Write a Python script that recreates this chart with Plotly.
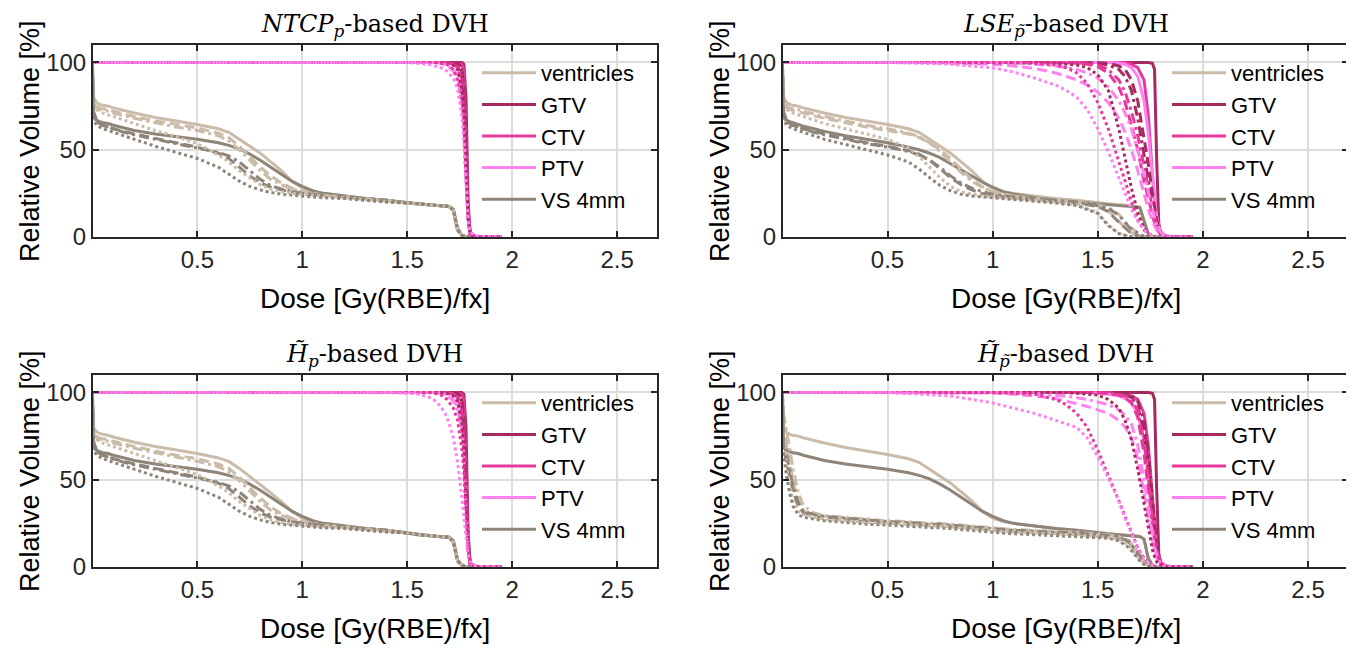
import plotly.graph_objects as go

# ---------------- data ----------------
DOSE_OAR = [0, 0.005, 0.02, 0.035, 0.05, 0.075, 0.1, 0.15, 0.2, 0.3, 0.4, 0.5, 0.6, 0.65, 0.7, 0.75,
            0.8, 0.85, 0.9, 0.95, 1.0, 1.05, 1.1, 1.2, 1.3, 1.4, 1.5, 1.55, 1.6, 1.65, 1.7, 1.72,
            1.74, 1.76, 1.78, 1.8]
DOSE_TGT = [0, 0.5, 0.8, 1.0, 1.1, 1.2, 1.3, 1.35, 1.4, 1.45, 1.5, 1.55, 1.6, 1.63, 1.66, 1.69,
            1.72, 1.74, 1.76, 1.77, 1.78, 1.79, 1.8, 1.82, 1.85, 1.9, 1.95]

STRUCTURES = ["ventricles", "GTV", "CTV", "PTV", "VS 4mm"]
COLORS = ["#CBBBA9", "#A62A5E", "#E6399B", "#FF82EE", "#8E8478"]
STYLES = ["solid", "dash", "dashdot", "dot"]
TITLES = ["<i>NTCP</i><sub><i>p</i></sub>-based DVH",
          "<i>LSE</i><sub><i>p\u0303</i></sub>-based DVH",
          "<i>H\u0303</i><sub><i>p</i></sub>-based DVH",
          "<i>H\u0303</i><sub><i>p\u0303</i></sub>-based DVH"]
X_TICKS = [0.5, 1, 1.5, 2, 2.5]
Y_TICKS = [0, 50, 100]
X_LABEL = "Dose [Gy(RBE)/fx]"
Y_LABEL = "Relative Volume [%]"

# ----- panel 1: NTCP_p -----
NTCP_VENTRICLES = [
    [100, 80, 77, 76, 75.5, 75, 74, 72.5, 71, 68.5, 66.5, 64.5, 62, 60, 56, 52, 48, 43, 38, 32, 28, 26, 25, 23.5, 22, 21, 19.5, 19, 18.5, 18, 17.5, 16, 5, 1, 0, 0],
    [100, 78, 75, 74, 73.5, 73, 72, 70.5, 69, 66.5, 64.5, 62.5, 59.5, 57, 52, 46, 40, 35, 31, 28, 26, 25, 24, 23, 22, 21, 19.5, 19, 18.5, 18, 17.5, 15, 4, 1, 0, 0],
    [100, 77, 74, 73, 72.5, 72, 71, 69.5, 68, 65.5, 63, 61, 58, 55, 50, 44, 38, 33, 30, 27.5, 26, 25, 24, 23, 22, 21, 19.5, 19, 18.5, 18, 17.5, 15, 4, 1, 0, 0],
    [100, 76, 73, 72, 71, 70, 69, 67, 65, 61, 57.5, 53.5, 47, 43, 38, 34, 30, 27.5, 26, 25, 24.5, 24, 23.5, 22.5, 21.5, 20.5, 19.5, 19, 18.5, 18, 17.5, 15, 4, 1, 0, 0],
]
NTCP_VS = [
    [100, 72, 67, 66, 65.5, 65, 64, 62.5, 61, 59, 57.5, 56, 54, 52.5, 50.5, 47.5, 44, 40, 36, 32, 29, 26.5, 25, 23.5, 22, 21, 19.5, 19, 18.5, 18, 17.5, 16, 5, 1, 0, 0],
    [100, 70, 66, 65, 64, 63, 62, 60.5, 59, 56.5, 54, 51.5, 48, 45, 40, 35, 31, 28.5, 27, 26, 25, 24.5, 24, 23, 22, 21, 19.5, 19, 18.5, 18, 17.5, 15, 4, 1, 0, 0],
    [100, 70, 66, 65, 64, 63, 62, 60, 58.5, 56, 53.5, 51, 48.5, 46.5, 43, 38, 33, 29.5, 27.5, 26, 25, 24.5, 24, 23, 22, 21, 19.5, 19, 18.5, 18, 17.5, 15, 4, 1, 0, 0],
    [100, 68, 64, 63, 62, 61, 60, 58, 56, 52, 48.5, 45, 40, 36, 32, 29, 27, 25.5, 24.5, 24, 23.5, 23, 22.5, 22, 21, 20, 19.5, 19, 18.5, 18, 17.5, 15, 4, 1, 0, 0],
]
NTCP_GTV = [
    [100, 100, 100, 100, 100, 100, 100, 100, 100, 100, 100, 100, 100, 100, 100, 100, 100, 100, 100, 99, 80, 20, 2, 0, 0, 0, 0],
    [100, 100, 100, 100, 100, 100, 100, 100, 100, 100, 100, 100, 100, 100, 100, 100, 100, 99.5, 97, 85, 50, 15, 2, 0.3, 0, 0, 0],
    [100, 100, 100, 100, 100, 100, 100, 100, 100, 100, 100, 100, 100, 100, 100, 100, 100, 99, 95, 80, 45, 13, 2, 0.3, 0, 0, 0],
    [100, 100, 100, 100, 100, 100, 100, 100, 100, 100, 100, 100, 100, 100, 100, 99.5, 98.5, 96, 85, 70, 40, 12, 2, 0.3, 0, 0, 0],
]
NTCP_CTV = [
    [100, 100, 100, 100, 100, 100, 100, 100, 100, 100, 100, 100, 100, 100, 100, 100, 100, 99.5, 99, 95, 60, 15, 1, 0.2, 0, 0, 0],
    [100, 100, 100, 100, 100, 100, 100, 100, 100, 100, 100, 100, 100, 100, 100, 100, 99.5, 98, 92, 75, 40, 10, 1.5, 0.3, 0, 0, 0],
    [100, 100, 100, 100, 100, 100, 100, 100, 100, 100, 100, 100, 100, 100, 100, 100, 99, 97, 90, 72, 38, 10, 1.5, 0.3, 0, 0, 0],
    [100, 100, 100, 100, 100, 100, 100, 100, 100, 100, 100, 100, 100, 100, 99.5, 99, 96, 90, 75, 60, 35, 10, 2, 0.4, 0, 0, 0],
]
NTCP_PTV = [
    [100, 100, 100, 100, 100, 100, 100, 100, 100, 100, 100, 100, 100, 100, 100, 99.5, 99, 97, 90, 75, 45, 12, 3, 0.5, 0.1, 0, 0],
    [100, 100, 100, 100, 100, 100, 100, 100, 100, 100, 100, 100, 100, 100, 99.5, 99, 96, 92, 80, 65, 35, 10, 2, 0.5, 0.1, 0, 0],
    [100, 100, 100, 100, 100, 100, 100, 100, 100, 100, 100, 100, 100, 100, 99.5, 98.5, 95, 90, 78, 62, 33, 10, 2, 0.5, 0.1, 0, 0],
    [100, 100, 100, 100, 100, 100, 100, 100, 100, 100, 100, 99.5, 99, 98, 97, 95, 91, 85, 70, 55, 30, 10, 3, 1, 0.3, 0.1, 0],
]

# ----- panel 2: LSE_p~ -----
LSE_VENTRICLES = [
    [100, 80, 77, 76, 75.5, 75, 74, 72.5, 71, 68.5, 66.5, 64.5, 62, 60, 56, 52, 48, 43, 38, 32, 28, 26, 25, 23.5, 22, 21, 19.5, 19, 18.5, 18, 17, 9, 2, 0.3, 0, 0],
    [100, 77, 74, 73, 72.5, 72, 71, 69.5, 68, 65.5, 63, 61, 59, 57, 54, 50, 45, 39, 33, 29, 26, 24.5, 23.5, 22, 21, 20, 18, 15, 9, 3, 0.5, 0.2, 0, 0, 0, 0],
    [100, 78, 75, 74, 73.5, 73, 72, 70.5, 69, 66.5, 64, 62, 59.5, 57.5, 54, 49, 43, 37, 32, 28.5, 26, 24.5, 23.5, 22, 21, 20, 18.5, 17, 13, 6, 1.5, 0.5, 0.1, 0, 0, 0],
    [100, 76, 73, 72, 71, 70, 69, 67, 65, 62, 59, 56, 51, 46, 40, 34, 29, 26, 24.5, 23.5, 23, 22.5, 22, 21, 20, 18.5, 14, 7, 2, 0.3, 0, 0, 0, 0, 0, 0],
]
LSE_VS = [
    [100, 72, 67, 66, 65.5, 64.5, 63.5, 62, 60.5, 58, 56, 54, 51.5, 50, 48, 45.5, 42, 38.5, 35, 31.5, 28.5, 26, 24.5, 22.5, 21, 20, 19, 18.5, 18, 17.5, 17, 9, 2, 0.3, 0, 0],
    [100, 70, 66, 65, 64, 63, 62, 60.5, 59, 56.5, 54, 52, 49.5, 47.5, 44, 39, 34, 30, 27, 25, 24, 23, 22.5, 21.5, 20.5, 19.5, 17.5, 14.5, 8.5, 3, 0.5, 0.2, 0, 0, 0, 0],
    [100, 70, 66, 65, 64, 63, 62, 60, 58.5, 56, 53.5, 51.5, 49, 47, 44, 40, 35, 31, 28, 26, 24.5, 23.5, 23, 22, 21, 20, 18, 16.5, 12.5, 5.5, 1.5, 0.5, 0.1, 0, 0, 0],
    [100, 68, 64, 63, 62, 61, 60, 58, 56, 53, 50, 47, 43, 39, 34, 29.5, 26.5, 24.5, 23.5, 23, 22.5, 22, 21.5, 20.5, 19.5, 18, 13.5, 6.5, 2, 0.3, 0, 0, 0, 0, 0, 0],
]
LSE_GTV = [
    [100, 100, 100, 100, 100, 100, 100, 100, 100, 100, 100, 100, 100, 100, 100, 100, 100, 100, 99.5, 96, 45, 8, 1, 0.1, 0, 0, 0],
    [100, 100, 100, 100, 100, 100, 100, 100, 100, 100, 99.8, 99.5, 98, 96, 90, 78, 57, 42, 25, 17, 10, 5, 2.5, 0.5, 0.1, 0, 0],
    [100, 100, 100, 100, 100, 100, 100, 100, 100, 99.8, 99.5, 98.5, 96, 92, 84, 68, 47, 33, 18, 12, 7, 3.5, 1.5, 0.3, 0, 0, 0],
    [100, 100, 100, 100, 100, 100, 99.5, 99, 98.5, 97, 93, 84, 62, 45, 28, 14, 5, 2, 0.5, 0.2, 0, 0, 0, 0, 0, 0, 0],
]
LSE_CTV = [
    [100, 100, 100, 100, 100, 100, 100, 100, 100, 100, 100, 100, 100, 100, 99, 97, 90, 70, 35, 20, 10, 4, 1.5, 0.3, 0, 0, 0],
    [100, 100, 100, 100, 100, 100, 100, 100, 99.5, 99, 97.5, 94, 86, 77, 64, 50, 32, 22, 12, 8, 5, 3, 1.5, 0.4, 0.1, 0, 0],
    [100, 100, 100, 100, 100, 100, 100, 100, 100, 99.5, 98.5, 96, 90, 83, 72, 58, 40, 28, 16, 11, 7, 4, 2, 0.5, 0.1, 0, 0],
    [100, 100, 100, 100, 100, 99.5, 98.5, 97, 94, 88, 77, 62, 44, 32, 20, 10, 4, 1.5, 0.5, 0.2, 0, 0, 0, 0, 0, 0, 0],
]
LSE_PTV = [
    [100, 100, 100, 100, 100, 100, 100, 100, 100, 100, 100, 100, 99.5, 99, 97, 92, 78, 60, 35, 22, 12, 6, 3, 1, 0.3, 0.1, 0],
    [100, 100, 100, 99, 98, 96.5, 94, 92, 90, 87, 83, 77, 68, 60, 50, 38, 25, 16, 9, 6, 4, 2.5, 1.5, 0.6, 0.2, 0.05, 0],
    [100, 100, 100, 100, 100, 99, 98, 97, 96, 94, 91, 86, 78, 71, 62, 50, 35, 25, 15, 10, 6.5, 4, 2.5, 1, 0.3, 0.05, 0],
    [100, 100, 99, 97, 94.5, 91, 87, 84, 80, 73, 62, 49, 34, 25, 16, 9, 4, 2, 1, 0.6, 0.4, 0.2, 0.1, 0.05, 0, 0, 0],
]

# ----- panel 3: H~_p -----
HP_VENTRICLES = [
    [100, 80, 77.5, 76.5, 76, 75.5, 74.5, 73, 71.5, 69, 67, 65, 62.5, 60.5, 56.5, 52, 47.5, 42.5, 37.5, 32, 28, 26, 25, 23.5, 22, 21, 19.5, 18.5, 18, 17.5, 17, 15, 4, 1, 0, 0],
    [100, 78, 75, 74, 73.5, 73, 72, 70.5, 69, 66.5, 64, 62, 59, 56.5, 51.5, 45.5, 39.5, 34.5, 30.5, 28, 26, 25, 24, 23, 22, 21, 19.5, 18.5, 18, 17.5, 17, 14, 3.5, 1, 0, 0],
    [100, 77, 74, 73, 72.5, 72, 71, 69.5, 68, 65.5, 63, 60.5, 57.5, 54.5, 49.5, 43.5, 37.5, 32.5, 29.5, 27.5, 26, 25, 24, 23, 22, 21, 19.5, 18.5, 18, 17.5, 17, 14, 3.5, 1, 0, 0],
    [100, 76, 73, 72, 71, 70, 69, 67, 65, 61, 57, 53, 46.5, 42.5, 37.5, 33.5, 29.5, 27, 25.5, 24.5, 24, 23.5, 23, 22.5, 21.5, 20.5, 19.5, 18.5, 18, 17.5, 17, 14, 3.5, 1, 0, 0],
]
HP_VS = [
    [100, 72, 67, 66, 65.5, 65, 64, 62.5, 61, 59, 57.5, 56, 54, 52.5, 50.5, 47.5, 44, 40, 36, 32, 29, 26.5, 25, 23.5, 22, 21, 19.5, 18.5, 18, 17.5, 17, 15, 4, 1, 0, 0],
    [100, 70, 66, 65, 64, 63, 62, 60.5, 59, 56.5, 54, 51.5, 48, 45, 40, 35, 31, 28.5, 27, 26, 25, 24.5, 24, 23, 22, 21, 19.5, 18.5, 18, 17.5, 17, 14, 3.5, 1, 0, 0],
    [100, 70, 66, 65, 64, 63, 62, 60, 58.5, 56, 53.5, 51, 48.5, 46.5, 43, 38, 33, 29.5, 27.5, 26, 25, 24.5, 24, 23, 22, 21, 19.5, 18.5, 18, 17.5, 17, 14, 3.5, 1, 0, 0],
    [100, 68, 64, 63, 62, 61, 60, 58, 56, 52, 48.5, 45, 40, 36, 32, 29, 27, 25.5, 24.5, 24, 23.5, 23, 22.5, 22, 21, 20, 19.5, 18.5, 18, 17.5, 17, 14, 3.5, 1, 0, 0],
]
HP_GTV = [
    [100, 100, 100, 100, 100, 100, 100, 100, 100, 100, 100, 100, 100, 100, 100, 100, 100, 100, 100, 99, 80, 20, 2, 0, 0, 0, 0],
    [100, 100, 100, 100, 100, 100, 100, 100, 100, 100, 100, 100, 100, 100, 100, 100, 100, 99.5, 97, 85, 50, 15, 2, 0.3, 0, 0, 0],
    [100, 100, 100, 100, 100, 100, 100, 100, 100, 100, 100, 100, 100, 100, 100, 100, 100, 99, 95, 80, 45, 13, 2, 0.3, 0, 0, 0],
    [100, 100, 100, 100, 100, 100, 100, 100, 100, 100, 100, 100, 100, 100, 100, 99.5, 98, 95, 83, 68, 38, 11, 2, 0.3, 0, 0, 0],
]
HP_CTV = [
    [100, 100, 100, 100, 100, 100, 100, 100, 100, 100, 100, 100, 100, 100, 100, 100, 100, 99.5, 99, 95, 60, 15, 1, 0.2, 0, 0, 0],
    [100, 100, 100, 100, 100, 100, 100, 100, 100, 100, 100, 100, 100, 100, 100, 100, 99.5, 98, 92, 75, 40, 10, 1.5, 0.3, 0, 0, 0],
    [100, 100, 100, 100, 100, 100, 100, 100, 100, 100, 100, 100, 100, 100, 100, 100, 99, 97, 90, 72, 38, 10, 1.5, 0.3, 0, 0, 0],
    [100, 100, 100, 100, 100, 100, 100, 100, 100, 100, 100, 100, 100, 99.5, 98.5, 96, 91, 84, 68, 55, 32, 10, 2, 0.4, 0, 0, 0],
]
HP_PTV = [
    [100, 100, 100, 100, 100, 100, 100, 100, 100, 100, 100, 100, 100, 100, 100, 99.5, 99, 97, 90, 75, 45, 12, 3, 0.5, 0.1, 0, 0],
    [100, 100, 100, 100, 100, 100, 100, 100, 100, 100, 100, 100, 100, 100, 99.5, 99, 96, 92, 80, 65, 35, 10, 2, 0.5, 0.1, 0, 0],
    [100, 100, 100, 100, 100, 100, 100, 100, 100, 100, 100, 100, 100, 100, 99.5, 98.5, 95, 90, 78, 62, 33, 10, 2, 0.5, 0.1, 0, 0],
    [100, 100, 100, 100, 100, 100, 100, 100, 100, 99.8, 99.5, 99, 97.5, 95.5, 92, 86, 74, 60, 40, 28, 16, 7, 3, 1, 0.3, 0.1, 0],
]

# ----- panel 4: H~_p~ -----
HPT_VENTRICLES = [
    [100, 80, 77, 76, 75.5, 75, 74, 72.5, 71, 68.5, 66.5, 64.5, 62, 60, 56, 52, 48, 43, 38, 32, 28, 26, 25, 23.5, 22, 21, 19.5, 19, 18.5, 18, 17.5, 16, 5, 1, 0, 0],
    [100, 82, 70, 60, 50, 38, 32, 30, 29, 28, 27, 26, 25.5, 25, 24.5, 24.5, 24, 23.5, 23, 22.5, 22, 21.5, 21, 20.5, 20, 19.5, 18.5, 18, 17, 14, 6, 3, 1, 0.3, 0, 0],
    [100, 88, 78, 68, 57, 43, 35, 31, 29.5, 28.5, 27.5, 26.5, 26, 25.5, 25, 25, 24.5, 24, 23.5, 23, 22.5, 22, 21.5, 21, 20.5, 20, 19, 18.5, 17.5, 15, 7, 3.5, 1.2, 0.3, 0, 0],
    [100, 75, 58, 47, 39, 32, 30, 28.5, 27.5, 26.5, 25.5, 25, 24.5, 24, 23.5, 23.5, 23, 22.5, 22, 21.5, 21, 20.5, 20, 19.5, 19, 18.5, 17.5, 17, 16, 12, 4, 2, 0.5, 0, 0, 0],
]
HPT_VS = [
    [100, 72, 67, 66, 65.5, 65, 64, 62.5, 61, 59, 57.5, 56, 54, 52.5, 50.5, 47.5, 44, 40, 36, 32, 29, 26.5, 25, 23.5, 22, 21, 19.5, 19, 18.5, 18, 17.5, 16, 5, 1, 0, 0],
    [100, 68, 60, 52, 44, 35, 31, 29.5, 28.5, 27.5, 26.5, 25.5, 25, 24.5, 24, 24, 23.5, 23, 22.5, 22, 21.5, 21, 20.5, 20, 19.5, 19, 18, 17.5, 17, 14, 6, 3, 1, 0.3, 0, 0],
    [100, 72, 64, 56, 47, 37, 32, 30, 29, 28, 27, 26, 25.5, 25, 24.5, 24.5, 24, 23.5, 23, 22.5, 22, 21.5, 21, 20.5, 20, 19.5, 18.5, 18, 17, 14.5, 6.5, 3, 1, 0.3, 0, 0],
    [100, 65, 52, 42, 35, 30, 28.5, 27.5, 26.5, 25.5, 24.5, 24, 23.5, 23, 22.5, 22.5, 22, 21.5, 21, 20.5, 20, 19.5, 19, 18.5, 18, 17.5, 17, 16.5, 15, 11, 3.5, 1.5, 0.4, 0, 0, 0],
]
HPT_GTV = [
    [100, 100, 100, 100, 100, 100, 100, 100, 100, 100, 100, 100, 100, 100, 100, 100, 100, 100, 99.5, 96, 45, 8, 1, 0.1, 0, 0, 0],
    [100, 100, 100, 100, 100, 100, 100, 100, 100, 100, 100, 100, 99.5, 99, 97, 92, 78, 58, 32, 20, 11, 5, 2, 0.4, 0, 0, 0],
    [100, 100, 100, 100, 100, 100, 100, 100, 100, 100, 100, 100, 100, 99.5, 98.5, 95, 84, 66, 38, 24, 13, 6, 2.5, 0.5, 0, 0, 0],
    [100, 100, 100, 100, 100, 100, 100, 100, 99.5, 99, 98.5, 96, 91, 84, 73, 56, 36, 22, 10, 6, 3, 1.5, 0.7, 0.1, 0, 0, 0],
]
HPT_CTV = [
    [100, 100, 100, 100, 100, 100, 100, 100, 100, 100, 100, 100, 99.5, 99, 98, 96, 88, 70, 40, 25, 13, 6, 2.5, 0.5, 0, 0, 0],
    [100, 100, 100, 100, 100, 100, 100, 100, 100, 100, 100, 99.5, 98.5, 97, 94, 86, 65, 45, 24, 15, 9, 5, 2.5, 0.6, 0.1, 0, 0],
    [100, 100, 100, 100, 100, 100, 100, 100, 100, 100, 100, 99.8, 99, 98, 96, 90, 72, 52, 28, 17, 10, 5, 2.5, 0.5, 0.1, 0, 0],
    [100, 100, 100, 100, 99.5, 99, 96, 93, 88, 80, 67, 53, 38, 29, 20, 11, 5, 2.5, 1, 0.5, 0.2, 0.1, 0, 0, 0, 0, 0],
]
HPT_PTV = [
    [100, 100, 100, 100, 100, 100, 100, 100, 100, 100, 99.5, 99, 98, 96.5, 94, 88, 72, 52, 28, 18, 10, 5, 2.5, 1, 0.3, 0.1, 0],
    [100, 100, 100, 99.8, 99, 98, 96.5, 95, 93.5, 92, 90, 88, 84, 80, 74, 62, 42, 28, 14, 9, 5, 3, 1.5, 0.5, 0.2, 0.05, 0],
    [100, 100, 100, 100, 100, 99.5, 98.5, 97.8, 97, 96, 94.5, 93, 90, 87, 82, 70, 50, 35, 19, 12, 7, 4, 2, 0.7, 0.2, 0.05, 0],
    [100, 100, 98, 94, 91, 88, 84, 82, 80, 74, 63, 51, 38, 28, 19, 11, 5, 2.5, 1, 0.6, 0.3, 0.2, 0.1, 0.05, 0, 0, 0],
]

PANELS = [
    [NTCP_VENTRICLES, NTCP_GTV, NTCP_CTV, NTCP_PTV, NTCP_VS],
    [LSE_VENTRICLES, LSE_GTV, LSE_CTV, LSE_PTV, LSE_VS],
    [HP_VENTRICLES, HP_GTV, HP_CTV, HP_PTV, HP_VS],
    [HPT_VENTRICLES, HPT_GTV, HPT_CTV, HPT_PTV, HPT_VS],
]
IS_TARGET = [False, True, True, True, False]

# ---------------- styling ----------------
W, H = 1354, 648
OFF = 8  # page body margin: screen px = figure px + OFF
FONT = "Liberation Sans, Arial, Helvetica, sans-serif"
SERIF = "DejaVu Serif, Liberation Serif, serif"
AX_COLOR = "#262626"
GRID = "#DCDCDC"
DASHES = {"solid": "solid", "dash": "10px,5px", "dashdot": "10px,4px,3px,4px", "dot": "3px,3px"}

# panel boxes in screen pixels (left, right, top, bottom)
BOXES = [(93, 657, 45, 237), (783, 1348, 45, 237), (93, 657, 375, 567), (783, 1348, 375, 567)]


def px(x):
    return (x - OFF) / W


def py(y):
    return 1 - (y - OFF) / H


fig = go.Figure()

for p, panel in enumerate(PANELS):
    sfx = "" if p == 0 else str(p + 1)
    legend_name = "legend" + sfx
    for st_i, style in enumerate(STYLES):
        for s_i, (name, color) in enumerate(zip(STRUCTURES, COLORS)):
            xs = DOSE_TGT if IS_TARGET[s_i] else DOSE_OAR
            ys = panel[s_i][st_i]
            fig.add_trace(go.Scatter(
                x=xs, y=ys, mode="lines", name=name,
                line=dict(color=color, width=3, dash=DASHES[style]),
                xaxis="x" + sfx, yaxis="y" + sfx,
                showlegend=(style == "solid"), legend=legend_name,
                hoverinfo="skip",
            ))

layout = dict(
    width=W, height=H, margin=dict(l=0, r=0, t=0, b=0, autoexpand=False),
    paper_bgcolor="white", plot_bgcolor="white",
    font=dict(family=FONT, color="black"),
    annotations=[],
)

for p, (l, r, t, b) in enumerate(BOXES):
    sfx = "" if p == 0 else str(p + 1)
    common = dict(showgrid=True, gridcolor=GRID, gridwidth=1.5, showline=True, linecolor=AX_COLOR,
                  linewidth=2, mirror="ticks", ticks="inside", ticklen=6, tickwidth=2,
                  tickcolor=AX_COLOR, zeroline=False, automargin=False,
                  tickfont=dict(size=24, color=AX_COLOR, family=FONT))
    layout["xaxis" + sfx] = dict(domain=[px(l), px(r)], range=[0.003, 2.69], tickvals=X_TICKS,
                                 ticktext=[("%g" % v) for v in X_TICKS],
                                 anchor="y" + sfx, **common)
    layout["yaxis" + sfx] = dict(domain=[py(b), py(t)], range=[0, 110], tickvals=Y_TICKS,
                                 anchor="x" + sfx, **common)
    layout["legend" + sfx] = dict(x=px(l + 384), y=py(t + 7), xanchor="left", yanchor="top",
                                  bgcolor="rgba(0,0,0,0)", borderwidth=0,
                                  font=dict(size=22, family=FONT, color="black"),
                                  itemwidth=54, tracegroupgap=0)
    cx = px((l + r) / 2)
    layout["annotations"] += [
        dict(text=TITLES[p], x=cx, y=py(t - 37), xref="paper", yref="paper",
             showarrow=False, xanchor="center", yanchor="top",
             font=dict(family=SERIF, size=24, color="black")),
        dict(text=X_LABEL, x=cx, y=py(b + 61), xref="paper", yref="paper",
             showarrow=False, xanchor="center", yanchor="middle",
             font=dict(family=FONT, size=28, color="black")),
        dict(text=Y_LABEL, x=px(l - 63), y=py((t + b) / 2), xref="paper", yref="paper",
             showarrow=False, xanchor="center", yanchor="middle", textangle=-90,
             font=dict(family=FONT, size=27, color="black")),
    ]

fig.update_layout(**layout)
fig.write_html("out.html")
